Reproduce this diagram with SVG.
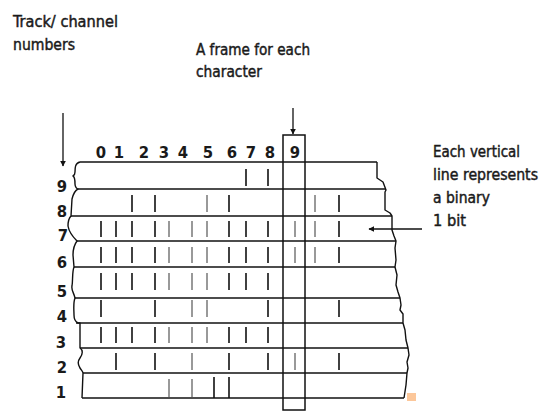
<svg xmlns="http://www.w3.org/2000/svg" width="548" height="411" viewBox="0 0 548 411">
<style>
  .t { font-family: "DejaVu Sans Condensed", "DejaVu Sans", "Liberation Sans", sans-serif; font-size: 16.5px; fill: #1a1a1a; stroke: #1a1a1a; stroke-width: 0.45; }
  .d { font-family: "DejaVu Sans Condensed", "DejaVu Sans", "Liberation Sans", sans-serif; font-size: 16.5px; font-weight: bold; fill: #1a1a1a; text-anchor: middle; }
  .h { stroke: #111; stroke-width: 1.5; fill: none; }
  .e { stroke: #111; stroke-width: 1.4; fill: none; stroke-linejoin: round; }
  .b { stroke: #111; stroke-width: 1.6; }
  .g { stroke: #6e6e6e; stroke-width: 1.4; }
  .a { stroke: #111; stroke-width: 1.3; fill: none; }
</style>
<defs>
  <marker id="ah" viewBox="0 0 10 10" refX="9" refY="5" markerWidth="6" markerHeight="6" orient="auto" markerUnits="userSpaceOnUse">
    <path d="M0,0 L10,5 L0,10 z" fill="#111"/>
  </marker>
</defs>
<rect width="548" height="411" fill="#ffffff"/>

<g id="labels">
  <text class="t" x="13" y="27" textLength="105" lengthAdjust="spacingAndGlyphs">Track/ channel</text>
  <text class="t" x="13" y="50" textLength="62" lengthAdjust="spacingAndGlyphs">numbers</text>
  <text class="t" x="196" y="55" textLength="114" lengthAdjust="spacingAndGlyphs">A frame for each</text>
  <text class="t" x="196" y="77" textLength="66" lengthAdjust="spacingAndGlyphs">character</text>
  <text class="t" x="433" y="157" textLength="87" lengthAdjust="spacingAndGlyphs">Each vertical</text>
  <text class="t" x="433" y="180" textLength="105" lengthAdjust="spacingAndGlyphs">line represents</text>
  <text class="t" x="433" y="203" textLength="57" lengthAdjust="spacingAndGlyphs">a binary</text>
  <text class="t" x="433" y="226" textLength="33" lengthAdjust="spacingAndGlyphs">1 bit</text>
</g>

<g id="column-numbers">
  <text class="d" x="101" y="158">0</text>
  <text class="d" x="119" y="158">1</text>
  <text class="d" x="144" y="158">2</text>
  <text class="d" x="164" y="158">3</text>
  <text class="d" x="183" y="158">4</text>
  <text class="d" x="208" y="158">5</text>
  <text class="d" x="232" y="158">6</text>
  <text class="d" x="251" y="158">7</text>
  <text class="d" x="270" y="158">8</text>
  <text class="d" x="295" y="158">9</text>
</g>

<g id="track-numbers">
  <text class="d" x="62" y="192">9</text>
  <text class="d" x="62" y="217">8</text>
  <text class="d" x="63" y="241">7</text>
  <text class="d" x="62" y="268">6</text>
  <text class="d" x="62" y="297">5</text>
  <text class="d" x="62" y="322">4</text>
  <text class="d" x="61" y="348">3</text>
  <text class="d" x="62" y="373">2</text>
  <text class="d" x="61" y="398">1</text>
</g>

<g id="tape">
  <path class="e" d="M80,162 C75,163 75,168 75,172 C75,175 73,176 73,176 C75,177 75,180 75,184 C75,187 77,189 78,189 C74,191 73,195 72,199 L71,216 C68,219 68,223 68,226 C69,232 73,237 77,241 C74,245 73,250 73,255 L74,267 C72,272 73,280 72,286 C71,290 74,293 75,298 C73,303 74,310 74,315 C74,320 76,322 78,323 L80,323 L80,348 C83,350 83,354 80,358 C77,362 78,365 80,368 C82,371 83,372 83,373 L82,398"/>
  <path class="e" d="M377,162 L377,178 L383,182 L386,190 L385,192 L385,210 L390,213 L392,216 L392,230 L394,236 L396,241 L395,248 L396,260 L395,267 L397,275 L396,285 L398,292 L400,298 L401,305 L400,310 L403,314 L403,323 L405,330 L406,340 L408,348 L409,355 L407,362 L408,368 L407,373 L406,385 L404,398"/>
  <line class="h" x1="80" y1="162" x2="377" y2="162"/>
  <line class="h" x1="78" y1="189" x2="386" y2="189"/>
  <line class="h" x1="71" y1="216" x2="392" y2="216"/>
  <line class="h" x1="77" y1="241" x2="396" y2="241"/>
  <line class="h" x1="74" y1="267" x2="395" y2="267"/>
  <line class="h" x1="75" y1="298" x2="400" y2="298"/>
  <line class="h" x1="76" y1="323" x2="403" y2="323"/>
  <line class="h" x1="80" y1="348" x2="408" y2="348"/>
  <line class="h" x1="83" y1="373" x2="407" y2="373"/>
  <line class="h" x1="82" y1="398" x2="404" y2="398"/>
  <rect x="407" y="393" width="9" height="8" fill="#fcc79a"/>
</g>

<g id="bits">
  <!-- track 9 -->
  <line class="b" x1="246" y1="169" x2="246" y2="186"/>
  <line class="b" x1="268" y1="169" x2="268" y2="186"/>
  <!-- track 8 -->
  <line class="b" x1="132" y1="195" x2="132" y2="212"/>
  <line class="b" x1="155" y1="195" x2="155" y2="212"/>
  <line class="g" x1="207" y1="195" x2="207" y2="212"/>
  <line class="b" x1="229" y1="195" x2="229" y2="212"/>
  <line class="g" x1="315" y1="195" x2="315" y2="212"/>
  <line class="b" x1="339" y1="195" x2="339" y2="212"/>
  <!-- track 7 -->
  <line class="b" x1="101" y1="221" x2="101" y2="237"/>
  <line class="b" x1="116" y1="221" x2="116" y2="237"/>
  <line class="b" x1="132" y1="221" x2="132" y2="237"/>
  <line class="b" x1="155" y1="221" x2="155" y2="237"/>
  <line class="g" x1="169" y1="221" x2="169" y2="237"/>
  <line class="g" x1="192" y1="221" x2="192" y2="237"/>
  <line class="g" x1="207" y1="221" x2="207" y2="237"/>
  <line class="b" x1="229" y1="221" x2="229" y2="237"/>
  <line class="b" x1="246" y1="221" x2="246" y2="237"/>
  <line class="b" x1="268" y1="221" x2="268" y2="237"/>
  <line class="g" x1="295" y1="221" x2="295" y2="237"/>
  <line class="g" x1="315" y1="221" x2="315" y2="237"/>
  <line class="b" x1="339" y1="221" x2="339" y2="237"/>
  <!-- track 6 -->
  <line class="b" x1="101" y1="247" x2="101" y2="263"/>
  <line class="b" x1="116" y1="247" x2="116" y2="263"/>
  <line class="b" x1="132" y1="247" x2="132" y2="263"/>
  <line class="b" x1="155" y1="247" x2="155" y2="263"/>
  <line class="g" x1="169" y1="247" x2="169" y2="263"/>
  <line class="g" x1="192" y1="247" x2="192" y2="263"/>
  <line class="g" x1="207" y1="247" x2="207" y2="263"/>
  <line class="b" x1="229" y1="247" x2="229" y2="263"/>
  <line class="b" x1="246" y1="247" x2="246" y2="263"/>
  <line class="b" x1="268" y1="247" x2="268" y2="263"/>
  <line class="g" x1="295" y1="247" x2="295" y2="263"/>
  <line class="g" x1="315" y1="247" x2="315" y2="263"/>
  <line class="b" x1="339" y1="247" x2="339" y2="263"/>
  <!-- track 5 -->
  <line class="b" x1="101" y1="273" x2="101" y2="290"/>
  <line class="b" x1="116" y1="273" x2="116" y2="290"/>
  <line class="b" x1="132" y1="273" x2="132" y2="290"/>
  <line class="b" x1="155" y1="273" x2="155" y2="290"/>
  <line class="g" x1="169" y1="273" x2="169" y2="290"/>
  <line class="g" x1="192" y1="273" x2="192" y2="290"/>
  <line class="g" x1="207" y1="273" x2="207" y2="290"/>
  <line class="b" x1="229" y1="273" x2="229" y2="290"/>
  <line class="b" x1="246" y1="273" x2="246" y2="290"/>
  <line class="b" x1="268" y1="273" x2="268" y2="290"/>
  <!-- track 4 -->
  <line class="b" x1="101" y1="300" x2="101" y2="317"/>
  <line class="b" x1="155" y1="300" x2="155" y2="317"/>
  <line class="g" x1="192" y1="300" x2="192" y2="317"/>
  <line class="g" x1="207" y1="300" x2="207" y2="317"/>
  <line class="b" x1="268" y1="300" x2="268" y2="317"/>
  <line class="b" x1="339" y1="300" x2="339" y2="317"/>
  <!-- track 3 -->
  <line class="b" x1="101" y1="327" x2="101" y2="343"/>
  <line class="b" x1="116" y1="327" x2="116" y2="343"/>
  <line class="b" x1="132" y1="327" x2="132" y2="343"/>
  <line class="b" x1="155" y1="327" x2="155" y2="343"/>
  <line class="g" x1="169" y1="327" x2="169" y2="343"/>
  <line class="g" x1="192" y1="327" x2="192" y2="343"/>
  <line class="g" x1="207" y1="327" x2="207" y2="343"/>
  <line class="b" x1="229" y1="327" x2="229" y2="343"/>
  <line class="b" x1="246" y1="327" x2="246" y2="343"/>
  <line class="b" x1="268" y1="327" x2="268" y2="343"/>
  <!-- track 2 -->
  <line class="b" x1="116" y1="353" x2="116" y2="370"/>
  <line class="b" x1="155" y1="353" x2="155" y2="370"/>
  <line class="g" x1="192" y1="353" x2="192" y2="370"/>
  <line class="b" x1="229" y1="353" x2="229" y2="370"/>
  <line class="b" x1="268" y1="353" x2="268" y2="370"/>
  <line class="g" x1="295" y1="353" x2="295" y2="370"/>
  <line class="b" x1="339" y1="353" x2="339" y2="370"/>
  <!-- track 1 -->
  <line class="g" x1="169" y1="379" x2="169" y2="397"/>
  <line class="g" x1="192" y1="379" x2="192" y2="397"/>
  <line class="b" x1="214" y1="377" x2="214" y2="398"/>
  <line class="b" x1="229" y1="377" x2="229" y2="398"/>
</g>

<g id="frame">
  <rect x="283" y="135" width="22" height="275" fill="none" stroke="#111" stroke-width="1.5"/>
</g>

<g id="connectors">
  <line class="a" x1="63" y1="113" x2="63" y2="166" marker-end="url(#ah)"/>
  <line class="a" x1="293" y1="108" x2="293" y2="134" stroke="#555" marker-end="url(#ah)"/>
  <line class="a" x1="422" y1="229" x2="369" y2="229" marker-end="url(#ah)"/>
</g>
</svg>
